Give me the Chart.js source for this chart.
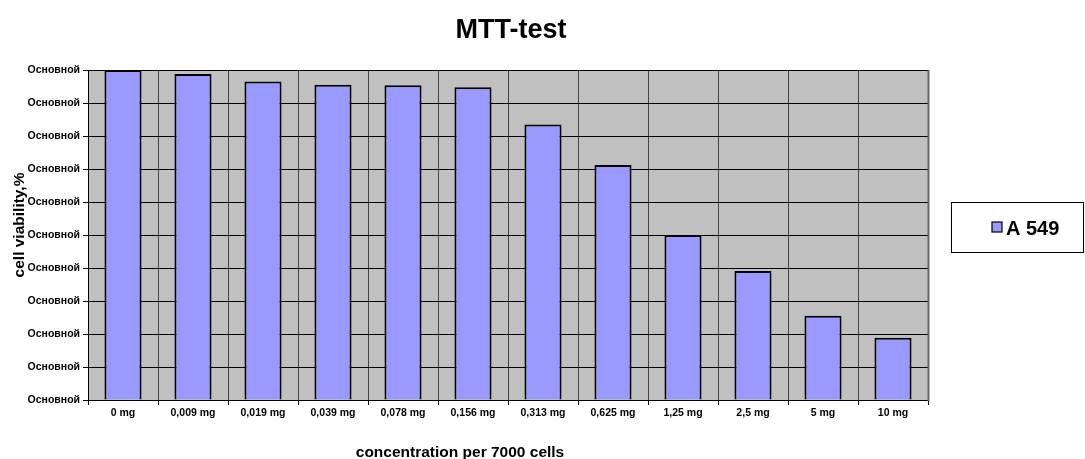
<!DOCTYPE html>
<html>
<head>
<meta charset="utf-8">
<script src="https://cdn.jsdelivr.net/npm/chart.js@4.4.1/dist/chart.umd.min.js"></script>
<style>
html,body{margin:0;padding:0;background:#fff;}
#wrap{width:1085px;height:459px;position:relative;}
</style>
</head>
<body>
<div id="wrap"><canvas id="c" width="1085" height="459"></canvas></div>
<script>
const categories = ["0 mg","0,009 mg","0,019 mg","0,039 mg","0,078 mg","0,156 mg","0,313 mg","0,625 mg","1,25 mg","2,5 mg","5 mg","10 mg"];
const seriesA549 = [100, 98.8, 96.5, 95.5, 95.4, 94.8, 83.5, 71.2, 50, 39.1, 25.5, 18.9];
const seriesName = "A 549";
const yTickLabel = "Основной";
const chartTitle = "MTT-test";
const xTitle = "concentration per 7000 cells";
const yTitle = "cell viability,%";

const FONT = "'Liberation Sans', Arial, sans-serif";

const decor = {
  id: 'decor',
  beforeDraw(chart) {
    const {ctx, chartArea: a} = chart;
    ctx.save();
    ctx.fillStyle = '#C0C0C0';
    ctx.fillRect(a.left, a.top, a.right - a.left, a.bottom - a.top);
    ctx.restore();
  },
  afterDraw(chart) {
    const {ctx, chartArea: a} = chart;
    ctx.save();
    // plot area right edge shadow
    ctx.strokeStyle = '#666';
    ctx.lineWidth = 2;
    ctx.beginPath();
    ctx.moveTo(a.right + 0.5, a.top);
    ctx.lineTo(a.right + 0.5, a.bottom + 1);
    ctx.stroke();
    // title
    ctx.fillStyle = '#000';
    ctx.font = "bold 27px " + FONT;
    ctx.textAlign = 'center';
    ctx.textBaseline = 'alphabetic';
    ctx.fillText(chartTitle, 511, 38);
    // x axis title
    ctx.font = "bold 15.5px " + FONT;
    ctx.fillText(xTitle, 460, 457);
    // y axis title
    ctx.save();
    ctx.translate(24, 225);
    ctx.rotate(-Math.PI / 2);
    ctx.fillText(yTitle, 0, 0);
    ctx.restore();
    // legend
    ctx.strokeStyle = '#000';
    ctx.lineWidth = 1;
    ctx.strokeRect(951.5, 202.5, 132, 50);
    const ds = chart.data.datasets[0];
    ctx.fillStyle = ds.backgroundColor;
    ctx.fillRect(992, 222, 10, 10);
    ctx.lineWidth = 1.2;
    ctx.strokeRect(992, 222, 10, 10);
    ctx.fillStyle = '#000';
    ctx.font = "bold 20px " + FONT;
    ctx.textAlign = 'left';
    ctx.fillText(ds.label, 1006, 235);
    ctx.restore();
  }
};

new Chart(document.getElementById('c'), {
  type: 'bar',
  data: {
    labels: categories,
    datasets: [{
      label: seriesName,
      data: seriesA549,
      backgroundColor: '#9999FF',
      borderColor: '#000',
      borderWidth: 2,
      categoryPercentage: 1,
      barPercentage: 0.53
    }]
  },
  options: {
    responsive: false,
    animation: false,
    devicePixelRatio: 1,
    layout: { padding: { left: 0, right: 157, top: 70, bottom: 0 } },
    plugins: {
      legend: { display: false },
      title: { display: false },
      tooltip: { enabled: false }
    },
    scales: {
      x: {
        offset: true,
        grid: { offset: true, color: '#444', lineWidth: 1, drawTicks: true, tickLength: 5, tickColor: '#000' },
        border: { display: true, color: '#000', width: 1 },
        ticks: { color: '#000', font: { family: FONT, size: 10.5, weight: 'bold' }, padding: 2, maxRotation: 0, autoSkip: false },
        afterFit(s) { s.height = 59; }
      },
      y: {
        min: 0, max: 100,
        ticks: { stepSize: 10, color: '#000', font: { family: FONT, size: 10.5, weight: 'bold' }, padding: 3,
                 callback: () => yTickLabel },
        grid: { color: '#000', lineWidth: 1, drawTicks: true, tickLength: 5, tickColor: '#000' },
        border: { display: true, color: '#000', width: 1 },
        afterFit(s) { s.width = 88; }
      }
    }
  },
  plugins: [decor]
});
</script>
</body>
</html>
